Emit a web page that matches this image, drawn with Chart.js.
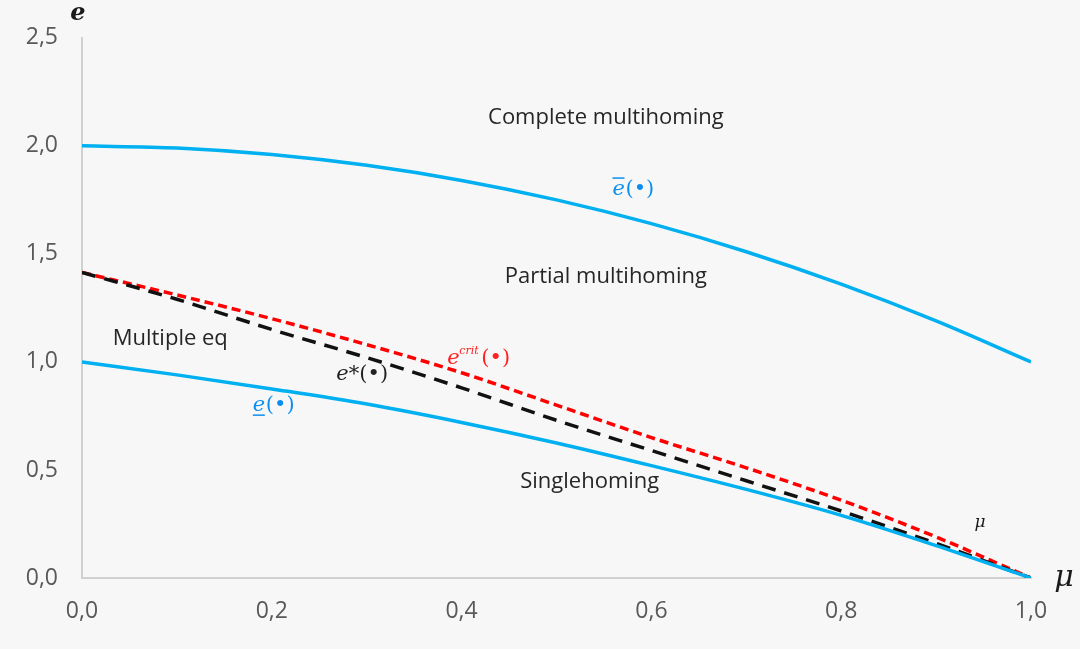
<!DOCTYPE html>
<html>
<head>
<meta charset="utf-8">
<script src="https://cdn.jsdelivr.net/npm/chart.js@4"></script>
<style>
  body { margin: 0; background: #f7f7f7; }
  #wrap { width: 1080px; height: 649px; }
</style>
</head>
<body>
<div id="wrap"><canvas id="chart"></canvas></div>
<script>
const mu = [0, 0.1, 0.2, 0.3, 0.4, 0.5, 0.6, 0.7, 0.8, 0.9, 1.0];
const eUpper = [2.0, 1.99, 1.96, 1.91, 1.84, 1.75, 1.64, 1.51, 1.36, 1.19, 1.0];
const eLower = [1.0, 0.94, 0.875, 0.805, 0.72, 0.625, 0.52, 0.41, 0.29, 0.15, 0];
const eStar = [1.414, 1.29, 1.15, 1.02, 0.88, 0.73, 0.59, 0.45, 0.31, 0.16, 0];
const eCrit = [1.414, 1.31, 1.20, 1.08, 0.95, 0.80, 0.65, 0.51, 0.36, 0.19, 0];
const xTicks = [0, 0.2, 0.4, 0.6, 0.8, 1.0];
const yTicks = [0, 0.5, 1.0, 1.5, 2.0, 2.5];

const pts = ys => mu.map((m, i) => ({ x: m, y: ys[i] }));
const fmt = v => v.toFixed(1).replace('.', ',');

// region and curve labels, placed in data coordinates
const labels = [
  { text: 'Complete multihoming', x: 0.552, y: 2.13 },
  { text: 'Partial multihoming', x: 0.552, y: 1.396 },
  { text: 'Multiple eq', x: 0.093, y: 1.106 },
  { text: 'Singlehoming', x: 0.535, y: 0.445 }
];

const textPlugin = {
  id: 'texts',
  afterDraw(chart) {
    const { ctx, scales: { x, y } } = chart;
    const px = v => x.getPixelForValue(v);
    const py = v => y.getPixelForValue(v);
    ctx.save();
    ctx.textBaseline = 'middle';
    ctx.textAlign = 'center';
    ctx.fillStyle = '#262626';
    ctx.font = '22px "Open Sans"';
    labels.forEach(l => ctx.fillText(l.text, px(l.x), py(l.y)));

    // axis titles
    ctx.fillStyle = '#1a1a1a';
    ctx.font = 'italic bold 24px "DejaVu Serif"';
    ctx.fillText('e', 78, 14);
    ctx.font = 'italic 30px "DejaVu Serif"';
    ctx.fillText('μ', 1064, 578);
    ctx.font = 'italic 17px "DejaVu Serif"';
    ctx.fillText('μ', 980, 523);

    // e-bar (upper)
    ctx.textAlign = 'left';
    ctx.fillStyle = '#0a8ff0';
    ctx.strokeStyle = '#0a8ff0';
    let bx = px(0.559), by = py(1.8);
    ctx.font = 'italic 21px "DejaVu Serif"';
    ctx.fillText('e', bx, by);
    ctx.lineWidth = 1.5;
    ctx.beginPath(); ctx.moveTo(bx, by - 11); ctx.lineTo(bx + 12, by - 11); ctx.stroke();
    ctx.font = '21px "DejaVu Serif"';
    ctx.fillText('(•)', bx + 13, by);

    // e-underline (lower)
    bx = px(0.18); by = py(0.80);
    ctx.font = 'italic 21px "DejaVu Serif"';
    ctx.fillText('e', bx, by);
    ctx.beginPath(); ctx.moveTo(bx, by + 10); ctx.lineTo(bx + 12, by + 10); ctx.stroke();
    ctx.font = '21px "DejaVu Serif"';
    ctx.fillText('(•)', bx + 13, by);

    // e*
    ctx.fillStyle = '#222';
    bx = px(0.268); by = py(0.94);
    ctx.font = 'italic 21px "DejaVu Serif"';
    ctx.fillText('e*', bx, by);
    ctx.font = '21px "DejaVu Serif"';
    ctx.fillText('(•)', bx + 23, by);

    // e crit
    ctx.fillStyle = '#ff2020';
    bx = px(0.385); by = py(1.015);
    ctx.font = 'italic 21px "DejaVu Serif"';
    ctx.fillText('e', bx, by);
    ctx.font = 'italic 11px "DejaVu Serif"';
    ctx.fillText('crit', bx + 12, by - 8);
    ctx.font = '21px "DejaVu Serif"';
    ctx.fillText('(•)', bx + 34, by);
    ctx.restore();
  }
};

new Chart(document.getElementById('chart'), {
  type: 'line',
  data: {
    datasets: [
      { data: pts(eUpper), borderColor: '#00b0f0', borderWidth: 3.5 },
      { data: pts(eLower), borderColor: '#00b0f0', borderWidth: 3.5 },
      { data: pts(eStar), borderColor: '#111111', borderWidth: 3.5, borderDash: [14, 9] },
      { data: pts(eCrit), borderColor: '#ff0000', borderWidth: 3.5, borderDash: [9, 5] }
    ]
  },
  options: {
    responsive: true,
    maintainAspectRatio: false,
    animation: false,
    layout: { padding: { top: 26, right: 49, left: 0, bottom: 0 } },
    elements: {
      point: { radius: 0 },
      line: { cubicInterpolationMode: 'monotone', fill: false }
    },
    plugins: { legend: { display: false }, tooltip: { enabled: false } },
    scales: {
      x: {
        type: 'linear', min: 0, max: 1,
        afterBuildTicks: s => { s.ticks = xTicks.map(v => ({ value: v })); },
        afterFit: s => { s.height = 71; },
        grid: { display: false, drawTicks: false },
        border: { color: '#d0d0d0', width: 2 },
        ticks: { padding: 20, color: '#595959', font: { family: 'Open Sans', size: 23 }, callback: v => fmt(v) }
      },
      y: {
        type: 'linear', min: 0, max: 2.5,
        afterBuildTicks: s => { s.ticks = yTicks.map(v => ({ value: v })); },
        afterFit: s => { s.width = 82; },
        grid: { display: false, drawTicks: false },
        border: { color: '#d0d0d0', width: 2 },
        ticks: { padding: 24, color: '#595959', font: { family: 'Open Sans', size: 23 }, callback: v => fmt(v) }
      }
    }
  },
  plugins: [textPlugin]
});
</script>
</body>
</html>
